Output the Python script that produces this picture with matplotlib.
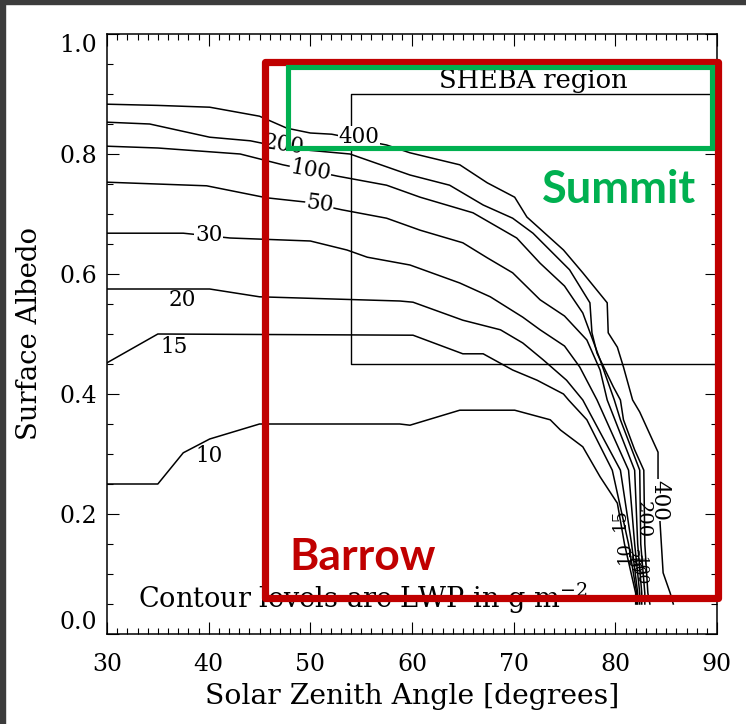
import matplotlib
matplotlib.use('Agg')
import matplotlib.pyplot as plt
from matplotlib.patches import Rectangle
from matplotlib.ticker import MultipleLocator, FormatStrFormatter

c400_x = [30, 35, 40.1, 45, 47.7, 50, 52.1, 57.5, 59.8, 64.7, 67.4, 70.1, 71.3, 74.9, 76.8, 79.2, 79.3, 80.2,
          80.8, 81.7, 82.4, 84.2, 84.2, 84.4, 84.7, 85.4, 85.7]
c400_y = [.883, .881, .878, .863, .843, .835, .833, .815, .802, .782, .752, .728, .695, .640, .602, .552, .502, .478,
          .445, .390, .370, .303, .257, .185, .102, .068, .050]
c200_x = [30, 34.2, 40.1, 44.1, 47, 50, 53.9, 59.8, 63.7, 67.0, 69.9, 71.9, 75.5, 77.5, 77.7, 78.2, 79.8, 80.5,
          80.8, 81.9, 82.8, 82.9, 83.2, 83.4]
c200_y = [.853, .850, .828, .822, .812, .806, .800, .765, .748, .715, .693, .668, .607, .552, .502, .468, .412, .390,
          .357, .307, .273, .150, .068, .050]
c100_x = [30, 35, 43.1, 47.3, 52.7, 57.5, 60.8, 66.0, 70.3, 72.6, 75.0, 76.8, 78.5, 79.9, 80.5, 82.4, 82.5, 82.9, 82.9]
c100_y = [.813, .810, .800, .782, .763, .748, .728, .702, .660, .618, .580, .535, .457, .390, .357, .273, .150, .068,
          .050]
c50_x = [30, 39.8, 45.7, 49.5, 53.1, 57.5, 60.8, 65.0, 67.4, 69.9, 72.6, 75.0, 77.2, 78.5, 79.2, 81.9, 82.2, 82.6, 82.6]
c50_y = [.753, .747, .727, .720, .707, .693, .673, .652, .627, .602, .557, .530, .490, .440, .390, .273, .150, .068,
         .050]
c30_x = [30, 37.5, 42.1, 50.0, 53.6, 55.6, 59.8, 64.7, 67.7, 70.9, 72.6, 75.0, 76.5, 78.2, 81.3, 81.9, 82.4, 82.4]
c30_y = [.668, .668, .660, .655, .640, .628, .615, .585, .562, .528, .507, .480, .445, .390, .273, .150, .068, .050]
c20_x = [30, 40.1, 45.0, 58.8, 60.1, 65.0, 68.7, 70.9, 72.9, 75.2, 76.8, 80.5, 81.6, 82.2, 82.2]
c20_y = [.575, .575, .562, .555, .553, .523, .507, .485, .457, .423, .390, .273, .150, .068, .050]
c15_x = [30, 35, 60.1, 65.0, 67.0, 69.9, 72.3, 74.9, 75.4, 77.2, 79.7, 81.3, 82.1, 82.1]
c15_y = [.452, .50, .498, .467, .467, .440, .423, .400, .390, .357, .273, .150, .068, .050]
c10_x = [30, 35, 37.5, 40.1, 45.0, 58.8, 59.8, 64.7, 70.1, 73.6, 74.6, 76.8, 78.5, 80.2, 80.9, 82.0, 82.0]
c10_y = [.25, .25, .302, .325, .35, .35, .348, .373, .373, .357, .34, .312, .262, .218, .150, .068, .05]

contours = [(c400_x, c400_y), (c200_x, c200_y), (c100_x, c100_y), (c50_x, c50_y),
            (c30_x, c30_y), (c20_x, c20_y), (c15_x, c15_y), (c10_x, c10_y)]

# inline labels: text, x, y, rotation, size, mask line behind
label_text = ['400', '200', '100', '50', '30', '20', '15', '10', '400', '200', '15', '10', '20', '30', '50', '100']
label_x = [54.8, 47.4, 50.0, 50.9, 40.0, 37.4, 36.6, 40.0, 84.3, 82.7, 80.4, 80.9, 81.5, 81.8, 82.1, 82.4]
label_y = [0.828, 0.815, 0.772, 0.717, 0.665, 0.557, 0.478, 0.297, 0.223, 0.19, 0.19, 0.135, 0.125, 0.118, 0.112,
           0.105]
label_rot = [0, -8, -10, -8, 0, 0, 0, 0, -90, -90, 90, 90, -90, -90, -90, -90]
label_size = [15.5, 15.5, 15.5, 15.5, 15.5, 15.5, 15.5, 15.5, 15.5, 14, 13, 13, 11, 11, 11, 11]
label_mask = [True, True, True, True, True, False, False, False, True, False, False, False, False, False, False,
              False]

# SHEBA region box
sheba_x = [90, 54, 54, 90]
sheba_y = [0.9, 0.9, 0.45, 0.45]

plt.rcParams['font.family'] = 'DejaVu Serif'
plt.rcParams['mathtext.fontset'] = 'dejavuserif'

fig = plt.figure(figsize=(7.46, 7.24), dpi=100)
ax = fig.add_axes([107 / 746, 1 - 634 / 724, 610 / 746, 600 / 724])

for cx, cy in contours:
    ax.plot(cx, cy, color='black', lw=1.1, zorder=2)

for t, lx, ly, r, s, m in zip(label_text, label_x, label_y, label_rot, label_size, label_mask):
    kw = dict(facecolor='white', edgecolor='none', pad=0.5) if m else None
    ax.text(lx, ly, t, rotation=r, ha='center', va='center', fontsize=s, zorder=3, bbox=kw,
            rotation_mode='anchor')

ax.plot(sheba_x, sheba_y, color='black', lw=1.0, zorder=2)
ax.text(71.9, 0.923, 'SHEBA region', ha='center', va='center', fontsize=18.5)
ax.text(33.0, 0.06, 'Contour levels are LWP in g m$^{-2}$', ha='left', va='center', fontsize=19.5)

ax.set_xlim(30, 90)
ax.set_ylim(0, 1)
ax.set_xticks([30, 40, 50, 60, 70, 80, 90])
ax.set_yticks([0, 0.2, 0.4, 0.6, 0.8, 1.0])
ax.xaxis.set_minor_locator(MultipleLocator(1))
ax.yaxis.set_minor_locator(MultipleLocator(0.05))
ax.yaxis.set_major_formatter(FormatStrFormatter('%.1f'))
ax.tick_params(which='both', direction='in', top=True, right=True, width=0.8, labelsize=17)
ax.tick_params(which='major', length=8.6)
ax.tick_params(which='minor', length=4.3)
ax.tick_params(axis='x', pad=14)
ax.tick_params(axis='y', pad=7)
for sp in ax.spines.values():
    sp.set_linewidth(1.1)
fig.canvas.draw()
ylabels = ax.get_yticklabels()
ylabels[0].set_va('bottom')
ylabels[-1].set_va('top')

ax.set_xlabel('Solar Zenith Angle [degrees]', fontsize=20.3, labelpad=5)
ax.set_ylabel('Surface Albedo', fontsize=19.8, labelpad=12)

# highlight boxes
ax.add_patch(Rectangle((45.5, 0.06), 44.55, 0.893, fill=False, edgecolor='#C00000', lw=5.2,
                       joinstyle='round', clip_on=False, zorder=5))
ax.add_patch(Rectangle((47.8, 0.81), 41.7, 0.135, fill=False, edgecolor='#00B050', lw=3.7,
                       joinstyle='miter', clip_on=False, zorder=6))
ax.text(80.4, 0.74, 'Summit', color='#00B050', fontsize=32.5, fontweight='bold', family='Lato',
        ha='center', va='center', zorder=6)
ax.text(55.1, 0.128, 'Barrow', color='#C00000', fontsize=32, fontweight='bold', family='Lato',
        ha='center', va='center', zorder=6)

# dark frame at the image edge
fig.patches.append(Rectangle((0, 1 - 4 / 724), 1, 4 / 724, transform=fig.transFigure, color='#3c3c3c'))
fig.patches.append(Rectangle((0, 0), 5 / 746, 1, transform=fig.transFigure, color='#3c3c3c'))

fig.savefig('out.png', dpi=100)
